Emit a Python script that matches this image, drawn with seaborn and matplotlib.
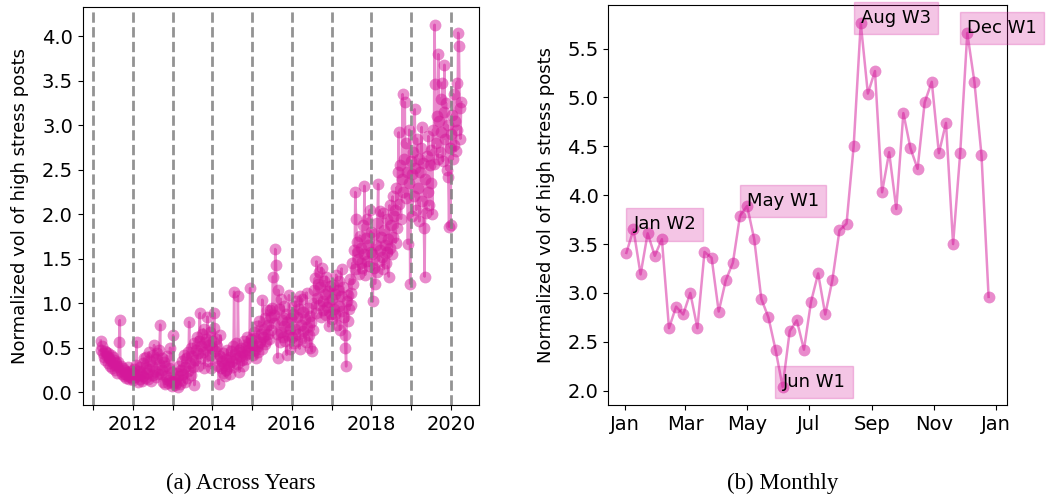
import matplotlib
matplotlib.use("Agg")
import numpy as np
import pandas as pd
import matplotlib.pyplot as plt
import matplotlib.dates as mdates
import seaborn as sns

# weekly normalized volume
y2011 = [0.58, 0.47, 0.52, 0.44, 0.40, 0.46, 0.36, 0.45, 0.41, 0.33, 0.44, 0.38, 0.30, 0.42,
         0.35, 0.27, 0.40, 0.31, 0.36, 0.25, 0.33, 0.29, 0.22, 0.34, 0.57, 0.81, 0.24, 0.30,
         0.20, 0.27, 0.18, 0.25, 0.21, 0.16, 0.23, 0.19, 0.28, 0.15, 0.21, 0.17, 0.24, 0.16]
y2012 = [0.22, 0.14, 0.26, 0.17, 0.31, 0.57, 0.19, 0.12, 0.24, 0.28, 0.15, 0.21, 0.13, 0.33,
         0.18, 0.38, 0.16, 0.27, 0.40, 0.22, 0.15, 0.45, 0.26, 0.35, 0.13, 0.30, 0.42, 0.19,
         0.53, 0.24, 0.37, 0.17, 0.44, 0.21, 0.32, 0.48, 0.76, 0.20, 0.39, 0.25, 0.12, 0.34,
         0.09, 0.29, 0.18, 0.41, 0.10, 0.27, 0.14, 0.50, 0.11, 0.07, 0.23]
y2013 = [0.64, 0.12, 0.08, 0.15, 0.10, 0.22, 0.06, 0.18, 0.30, 0.09, 0.25, 0.14, 0.35, 0.20,
         0.42, 0.11, 0.28, 0.38, 0.16, 0.45, 0.24, 0.79, 0.33, 0.50, 0.19, 0.41, 0.28, 0.55,
         0.08, 0.36, 0.47, 0.62, 0.30, 0.44, 0.58, 0.89, 0.52, 0.38, 0.66, 0.45, 0.71, 0.27,
         0.56, 0.60, 0.48, 0.85, 0.35, 0.53, 0.42, 0.68, 0.27, 0.50]
y2014 = [0.58, 0.72, 0.89, 0.46, 0.60, 0.38, 0.52, 0.30, 0.09, 0.41, 0.64, 0.27, 0.35, 0.22,
         0.44, 0.31, 0.18, 0.37, 0.25, 0.48, 0.33, 0.29, 0.40, 0.21, 0.46, 0.35, 0.52, 0.28,
         1.13, 0.43, 0.38, 0.55, 0.32, 1.08, 0.47, 0.23, 0.41, 0.50, 0.36, 0.45, 0.30, 0.58,
         0.42, 0.51, 0.37, 0.62, 0.48, 0.55, 0.44, 1.17, 0.60, 0.52]
y2015 = [0.55, 0.42, 0.68, 0.47, 0.61, 0.38, 0.74, 0.52, 0.45, 0.80, 0.57, 0.66, 0.49, 1.04,
         0.62, 0.71, 0.54, 0.83, 0.58, 0.92, 0.65, 0.76, 0.60, 0.92, 0.70, 0.85, 0.95, 1.30,
         0.78, 0.87, 1.61, 1.43, 0.66, 0.39, 1.15, 0.93, 0.56, 1.05, 0.68, 0.81, 0.62, 0.97,
         0.74, 0.58, 0.88, 0.42, 0.79, 0.64, 1.09, 0.71, 0.49, 0.83]
y2016 = [0.62, 0.88, 0.55, 0.97, 0.71, 1.02, 0.58, 0.84, 0.66, 0.93, 0.49, 1.08, 0.75, 1.05,
         0.69, 0.90, 0.61, 0.82, 0.57, 1.12, 0.73, 0.95, 0.64, 0.86, 0.50, 0.79, 0.46, 1.00,
         0.70, 1.15, 1.28, 0.89, 1.47, 1.06, 1.22, 1.35, 0.98, 1.18, 0.84, 1.40, 1.03, 0.92,
         1.25, 1.10, 0.87, 1.30, 0.96, 1.14, 0.74, 1.01, 1.19, 0.88]
y2017 = [1.05, 0.82, 1.21, 0.94, 1.10, 0.88, 1.32, 0.76, 1.15, 0.97, 1.25, 0.70, 1.08, 1.39,
         0.91, 1.18, 0.85, 0.64, 0.50, 0.29, 1.02, 0.80, 1.09, 0.93, 1.27, 0.98, 1.12, 1.45,
         1.22, 1.60, 1.38, 2.25, 1.95, 1.69, 1.50, 1.58, 1.33, 1.76, 1.45, 1.62, 1.40, 1.88,
         1.55, 2.32, 1.32, 1.73, 1.48, 1.95, 1.65, 1.42, 2.05, 1.58, 1.80]
y2018 = [1.55, 1.02, 1.78, 1.40, 1.22, 1.65, 1.35, 1.90, 2.34, 1.48, 2.04, 1.60, 1.75, 1.52,
         2.02, 1.38, 1.82, 1.66, 1.45, 1.95, 1.58, 1.72, 1.30, 2.10, 1.62, 1.88, 1.55, 2.20,
         1.74, 1.98, 2.05, 1.68, 2.30, 1.85, 2.47, 2.92, 2.12, 2.55, 1.95, 2.40, 3.35, 2.25,
         2.62, 3.26, 2.18, 2.80, 2.48, 1.67, 2.35, 2.95, 1.22, 2.60]
y2019 = [2.45, 1.98, 2.70, 2.20, 3.18, 2.52, 2.05, 2.85, 2.30, 2.62, 1.92, 2.48, 2.75, 2.98,
         2.15, 2.58, 1.85, 1.30, 2.40, 2.02, 2.65, 2.25, 2.88, 2.10, 2.55, 2.35, 2.72, 2.00,
         2.95, 2.56, 4.13, 3.46, 2.80, 3.10, 2.62, 3.80, 3.05, 2.70, 3.30, 2.92, 3.48, 2.60,
         3.15, 3.68, 2.85, 3.25, 2.50, 3.00, 2.42, 1.86, 2.75, 1.88]
y2020 = [2.90, 3.12, 2.62, 3.35, 2.78, 3.05, 2.71, 3.48, 2.95, 4.04, 3.89, 3.20, 2.85, 3.26]
year_starts = ["2011-03-13", "2012-01-01", "2013-01-06", "2014-01-05", "2015-01-04",
               "2016-01-03", "2017-01-01", "2018-01-07", "2019-01-06", "2020-01-05"]
yearly = [y2011, y2012, y2013, y2014, y2015, y2016, y2017, y2018, y2019, y2020]
year_lines = list(range(2011, 2021))

# one year, weekly
monthly_vals = [3.41, 3.65, 3.19, 3.61, 3.38, 3.55, 2.64, 2.86, 2.78, 3.00, 2.64, 3.42, 3.36,
                2.81, 3.13, 3.31, 3.79, 3.89, 3.55, 2.94, 2.75, 2.42, 2.04, 2.61, 2.72, 2.42,
                2.91, 3.20, 2.78, 3.13, 3.64, 3.71, 4.50, 5.76, 5.04, 5.27, 4.03, 4.44, 3.86,
                4.84, 4.48, 4.27, 4.95, 5.16, 4.43, 4.74, 3.50, 4.43, 5.66, 5.16, 4.41, 2.96]
peak_idx = [1, 17, 22, 33, 48]
peak_labels = ["Jan W2", "May W1", "Jun W1", "Aug W3", "Dec W1"]

c = "#d4189a"

# build frames
years_df = pd.concat([pd.DataFrame({"date": pd.date_range(s, periods=len(v), freq="7D"), "vol": v})
                      for s, v in zip(year_starts, yearly)], ignore_index=True)
month_df = pd.DataFrame({"date": pd.date_range("2019-01-02", periods=len(monthly_vals), freq="7D"),
                         "vol": monthly_vals})

fig = plt.figure(figsize=(10.48, 4.99), dpi=100)
ax1 = fig.add_axes([0.0789, 0.1884, 0.3784, 0.7982])
ax2 = fig.add_axes([0.5804, 0.1884, 0.3802, 0.8016])

#Across years
sns.lineplot(data=years_df, x="date", y="vol", ax=ax1, color=c, marker="o", markersize=8.5,
             markeredgewidth=0, alpha=0.5, linewidth=1.8)
for yr in year_lines:
    ax1.axvline(pd.Timestamp(f"{yr}-01-01"), color="grey", linestyle="--", linewidth=2, alpha=0.85)
ax1.xaxis.set_major_locator(mdates.YearLocator(1))
ax1.xaxis.set_major_formatter(plt.FuncFormatter(
    lambda v, p: str(mdates.num2date(v).year) if mdates.num2date(v).year % 2 == 0 else ""))
ax1.set_xlabel("")
ax1.set_ylabel("Normalized vol of high stress posts", fontsize=13, labelpad=9)
ax1.tick_params(labelsize=14)

#Monthly
sns.lineplot(data=month_df, x="date", y="vol", ax=ax2, color=c, marker="o", markersize=8.5,
             markeredgewidth=0, alpha=0.5, linewidth=1.8)
for i, lab in zip(peak_idx, peak_labels):
    ax2.text(month_df["date"][i], month_df["vol"][i], lab, fontsize=13,
             bbox=dict(boxstyle="square,pad=0.4", facecolor=c, edgecolor=c, alpha=0.25))
ax2.xaxis.set_major_locator(mdates.MonthLocator(bymonth=[1, 3, 5, 7, 9, 11]))
ax2.xaxis.set_major_formatter(mdates.DateFormatter("%b"))
ax2.set_xlabel("")
ax2.set_ylabel("Normalized vol of high stress posts", fontsize=13, labelpad=9)
ax2.tick_params(labelsize=14)

fig.text(0.23, 0.02, "(a) Across Years", ha="center", va="baseline", family="Liberation Serif", fontsize=16.5)
fig.text(0.747, 0.02, "(b) Monthly", ha="center", va="baseline", family="Liberation Serif", fontsize=16.5)

fig.savefig("out.png", dpi=100)
